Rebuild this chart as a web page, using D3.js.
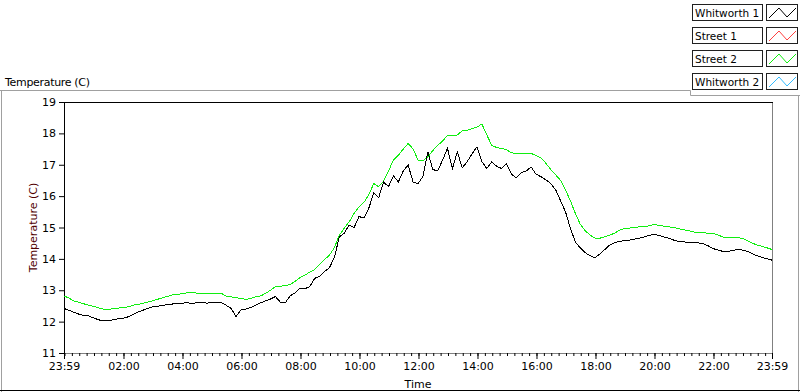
<!DOCTYPE html>
<html>
<head>
<meta charset="utf-8">
<script src="https://cdn.jsdelivr.net/npm/d3@7/dist/d3.min.js"></script>
<style>
  body { margin: 0; background: #fff; }
  svg text { font-family: "DejaVu Sans", sans-serif; font-size: 11px; fill: #000; }
  svg text.legend-label { font-size: 10.5px; }
</style>
</head>
<body>
<div id="chart"></div>
<script>
// series names shown in the legend
const seriesNames = ["Whitworth 1", "Street 1", "Street 2", "Whitworth 2"];
const seriesColors = ["#000000", "#ff4040", "#10ee10", "#33bbff"];

// sample times: minutes after 23:59, one every 10 minutes
const sampleMinutes = d3.range(0, 1441, 10);

// Whitworth 1 (black), deg C
const whitworth1 = [
  12.42, 12.36, 12.30, 12.24, 12.20, 12.18, 12.12, 12.06, 12.02, 12.03,
  12.06, 12.09, 12.11, 12.15, 12.22, 12.30, 12.36, 12.42, 12.47, 12.49,
  12.52, 12.54, 12.56, 12.58, 12.59, 12.60, 12.58, 12.60, 12.61, 12.59,
  12.60, 12.62, 12.60, 12.52, 12.42, 12.16, 12.38, 12.40, 12.45, 12.52,
  12.60, 12.66, 12.72, 12.80, 12.62, 12.60, 12.82, 12.92, 13.07, 13.05,
  13.12, 13.38, 13.45, 13.60, 13.72, 14.05, 14.70, 14.82, 15.08, 15.00,
  15.35, 15.30, 15.62, 16.10, 15.95, 16.45, 16.30, 16.65, 16.45, 16.80,
  16.99, 16.45, 16.40, 16.62, 17.41, 16.85, 16.80, 17.15, 17.52, 16.88,
  17.41, 16.90, 17.10, 17.35, 17.57, 17.10, 16.88, 17.09, 16.95, 16.88,
  17.04, 16.70, 16.58, 16.75, 16.80, 16.93, 16.70, 16.62, 16.52, 16.40,
  16.20, 15.85, 15.50, 14.97, 14.54, 14.35, 14.20, 14.10, 14.04, 14.16,
  14.30, 14.44, 14.52, 14.56, 14.58, 14.60, 14.63, 14.66, 14.70, 14.75,
  14.78, 14.75, 14.70, 14.66, 14.60, 14.55, 14.54, 14.53, 14.52, 14.51,
  14.48, 14.42, 14.33, 14.28, 14.24, 14.23, 14.27, 14.30, 14.28, 14.24,
  14.16, 14.10, 14.05, 14.00, 13.96
];

// Street 2 (green), deg C
const street2 = [
  12.82, 12.75, 12.66, 12.62, 12.57, 12.52, 12.49, 12.44, 12.40, 12.39,
  12.41, 12.43, 12.45, 12.47, 12.52, 12.55, 12.58, 12.62, 12.66, 12.71,
  12.76, 12.80, 12.85, 12.86, 12.89, 12.92, 12.92, 12.91, 12.90, 12.90,
  12.90, 12.90, 12.90, 12.81, 12.79, 12.76, 12.74, 12.71, 12.74, 12.79,
  12.82, 12.90, 13.00, 13.12, 13.13, 13.15, 13.18, 13.28, 13.40, 13.48,
  13.58, 13.66, 13.82, 13.98, 14.12, 14.36, 14.75, 14.98, 15.18, 15.45,
  15.66, 15.80, 16.05, 16.40, 16.30, 16.48, 16.80, 17.15, 17.30, 17.50,
  17.68, 17.50, 17.15, 17.12, 17.25, 17.45, 17.62, 17.75, 17.94, 17.92,
  17.95, 18.08, 18.10, 18.15, 18.20, 18.30, 17.95, 17.62, 17.55, 17.52,
  17.48, 17.38, 17.36, 17.36, 17.35, 17.36, 17.30, 17.22, 17.05, 16.85,
  16.68, 16.50, 16.20, 15.85, 15.45, 15.10, 14.90, 14.76, 14.66, 14.66,
  14.70, 14.76, 14.82, 14.92, 14.97, 14.98, 15.00, 15.02, 15.03, 15.05,
  15.10, 15.07, 15.04, 15.02, 15.00, 14.96, 14.93, 14.90, 14.86, 14.84,
  14.83, 14.82, 14.81, 14.76, 14.70, 14.67, 14.67, 14.67, 14.66, 14.58,
  14.50, 14.44, 14.40, 14.35, 14.30
];

// axis ticks
const xMajorTicks = [0, 121, 241, 361, 481, 601, 721, 841, 961, 1081, 1201, 1321, 1440];
const yTicks = [11, 12, 13, 14, 15, 16, 17, 18, 19];

const width = 800, height = 392;
const plot = { left: 64, top: 102, right: 772, bottom: 353 };

const svg = d3.select("#chart")
  .append("svg")
  .attr("width", width)
  .attr("height", height);

svg.append("rect")
  .attr("width", width)
  .attr("height", height)
  .attr("fill", "white");

// outer panel frame
svg.append("path")
  .attr("d", "M0,90.5H690.5V95.5H800 M1.5,90.5V392 M798.5,95.5V392")
  .attr("fill", "none")
  .attr("stroke", "#a0a0a0");
svg.append("line")
  .attr("x1", 0).attr("x2", width)
  .attr("y1", 390.5).attr("y2", 390.5)
  .attr("stroke", "#000");

svg.append("text")
  .attr("x", 5)
  .attr("y", 86)
  .attr("textLength", 85)
  .text("Temperature (C)");

var xScale = d3.scaleLinear()
  .domain([0, 1440])
  .range([plot.left, plot.right]);

var yScale = d3.scaleLinear()
  .domain([11, 19])
  .range([plot.bottom, plot.top]);

function clockLabel(t) {
  var m = (t + 23 * 60 + 59) % 1440;
  return d3.format("02")(Math.floor(m / 60)) + ":" + d3.format("02")(m % 60);
}

// plot frame: top/left black, right/bottom grey
svg.append("line")
  .attr("x1", plot.right + 0.5).attr("x2", plot.right + 0.5)
  .attr("y1", plot.top).attr("y2", plot.bottom + 1)
  .attr("stroke", "#808080");
svg.append("line")
  .attr("x1", plot.left).attr("x2", plot.right + 1)
  .attr("y1", plot.bottom + 0.5).attr("y2", plot.bottom + 0.5)
  .attr("stroke", "#808080");
svg.append("line")
  .attr("x1", plot.left).attr("x2", plot.right + 1)
  .attr("y1", plot.top + 0.5).attr("y2", plot.top + 0.5)
  .attr("stroke", "#000");

// minor x ticks every 15 minutes from 00:00
var xMinor = svg.append("g")
  .attr("transform", `translate(0,${plot.bottom})`)
  .call(d3.axisBottom(xScale)
    .tickValues(d3.range(1, 1440, 15))
    .tickSize(3)
    .tickFormat(""));
xMinor.select(".domain").remove();

var xAxis = svg.append("g")
  .attr("transform", `translate(0,${plot.bottom})`)
  .call(d3.axisBottom(xScale)
    .tickValues(xMajorTicks)
    .tickSize(6)
    .tickPadding(3)
    .tickFormat(clockLabel));
xAxis.select(".domain").remove();

var yAxis = svg.append("g")
  .attr("transform", `translate(${plot.left},0)`)
  .call(d3.axisLeft(yScale)
    .tickValues(yTicks)
    .tickSize(5)
    .tickPadding(3));
yAxis.select(".domain").remove();

svg.selectAll(".tick line").attr("stroke", "#000");
svg.selectAll(".tick text")
  .attr("font-family", null)
  .attr("font-size", null)
  .style("fill", "#000");

svg.append("line")
  .attr("x1", plot.left + 0.5).attr("x2", plot.left + 0.5)
  .attr("y1", plot.top).attr("y2", plot.bottom + 1)
  .attr("stroke", "#000");

// axis titles
svg.append("text")
  .attr("x", (plot.left + plot.right) / 2)
  .attr("y", 388)
  .attr("text-anchor", "middle")
  .text("Time");

svg.append("text")
  .attr("transform", `translate(37,${(plot.top + plot.bottom) / 2}) rotate(-90)`)
  .attr("text-anchor", "middle")
  .style("fill", "#500000")
  .text("Temperature (C)");

// data lines
var line = d3.line()
  .x((d, i) => xScale(sampleMinutes[i]))
  .y(d => yScale(d));

svg.append("path")
  .datum(street2)
  .attr("d", line)
  .attr("fill", "none")
  .attr("stroke", seriesColors[2])
  .attr("stroke-width", 1)
  .attr("shape-rendering", "crispEdges");

svg.append("path")
  .datum(whitworth1)
  .attr("d", line)
  .attr("fill", "none")
  .attr("stroke", seriesColors[0])
  .attr("stroke-width", 1)
  .attr("shape-rendering", "crispEdges");

// legend
var legend = svg.selectAll(".legend-row")
  .data(seriesNames)
  .enter()
  .append("g")
  .attr("class", "legend-row")
  .attr("transform", (d, i) => `translate(692,${4 + i * 23})`);

legend.append("rect")
  .attr("x", 0.5).attr("y", 0.5)
  .attr("width", 70).attr("height", 16)
  .attr("fill", "white")
  .attr("stroke", "#202020");

legend.append("text")
  .attr("class", "legend-label")
  .attr("x", 3)
  .attr("y", 13)
  .text(d => d);

legend.append("rect")
  .attr("x", 74.5).attr("y", 0.5)
  .attr("width", 31).attr("height", 16)
  .attr("fill", "white")
  .attr("stroke", "#202020");

legend.append("path")
  .attr("d", "M77,14L87,4L95,13L104,4")
  .attr("fill", "none")
  .attr("stroke", (d, i) => seriesColors[i]);
</script>
</body>
</html>
